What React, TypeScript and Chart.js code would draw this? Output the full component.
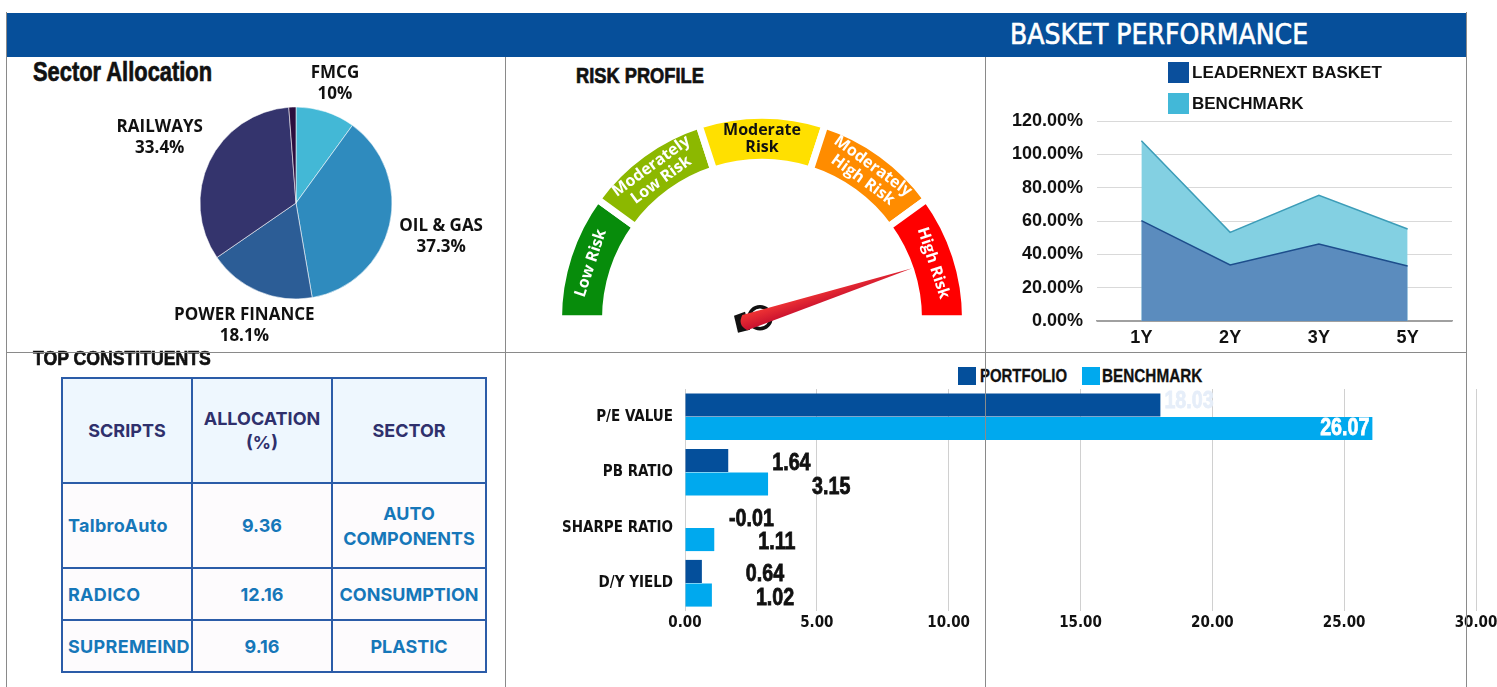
import React, { useEffect, useRef } from 'react';
import { Chart, registerables } from 'chart.js';
Chart.register(...registerables);

const COND = '"DejaVu Sans Condensed", "Liberation Sans", sans-serif';
const OPEN = '"Open Sans", "Noto Sans", sans-serif';
const INTER = 'Inter, "Open Sans", sans-serif';
const LIB = '"Liberation Sans", Arial, sans-serif';

// ---- Sector allocation (pie) ----
const sectorLabels = ['FMCG', 'OIL & GAS', 'POWER FINANCE', 'RAILWAYS', ''];
const sectorValues = [10, 37.3, 18.1, 33.4, 1.2];
const sectorColors = ['#43b8d6', '#2f8bbe', '#2c5d96', '#34346d', '#2b0e3e'];
const sectorLabelGap = [30, 53, 37, 55, 0];

// ---- Risk profile (gauge) ----
const riskBands = ['Low Risk', 'Moderately\nLow Risk', 'Moderate\nRisk', 'Moderately\nHigh Risk', 'High Risk'];
const riskBandWeights = [1, 1, 1, 1, 1];
const riskColors = ['#078c0b', '#8cb800', '#ffe000', '#ff8c00', '#ff0000'];
const riskTextColors = ['#ffffff', '#ffffff', '#111111', '#ffffff', '#ffffff'];
const riskLevel = 4.5;

// ---- Basket performance (area) ----
const periods = ['1Y', '2Y', '3Y', '5Y'];
const basketReturns = [60.2, 33.6, 46.2, 33.0];
const benchmarkReturns = [108.2, 53.2, 75.4, 55.2];
const perfTicks = [0, 20, 40, 60, 80, 100, 120];

// ---- Valuation (bars) ----
const metrics = ['P/E VALUE', 'PB RATIO', 'SHARPE RATIO', 'D/Y YIELD'];
const portfolioValues = [18.03, 1.64, -0.01, 0.64];
const benchmarkValues = [26.07, 3.15, 1.11, 1.02];

// ---- Top constituents (table) ----
const tableHeaders = ['SCRIPTS', 'ALLOCATION\n(%)', 'SECTOR'];
const scripts = ['TalbroAuto', 'RADICO', 'SUPREMEIND'];
const allocations = ['9.36', '12.16', '9.16'];
const sectors = ['AUTO\nCOMPONENTS', 'CONSUMPTION', 'PLASTIC'];
const rowHeights = [85, 52, 52];

const noScalePadding = (s: any) => {
  s.paddingTop = 0; s.paddingBottom = 0; s.paddingLeft = 0; s.paddingRight = 0;
};

const pieLabelPlugin = {
  id: 'pieLabels',
  afterDatasetsDraw(chart: any) {
    const ctx = chart.ctx;
    const meta = chart.getDatasetMeta(0);
    ctx.save();
    ctx.font = `bold 17px ${OPEN}`;
    ctx.fillStyle = '#111';
    ctx.textAlign = 'center';
    ctx.textBaseline = 'middle';
    meta.data.forEach((arc: any, i: number) => {
      const name = sectorLabels[i];
      if (!name) return;
      const p = arc.getProps(['x', 'y', 'startAngle', 'endAngle', 'outerRadius'], true);
      const mid = (p.startAngle + p.endAngle) / 2;
      const d = p.outerRadius + sectorLabelGap[i];
      const cx = p.x + Math.cos(mid) * d;
      const cy = p.y + Math.sin(mid) * d;
      ctx.fillText(name, cx, cy - 10.5);
      ctx.fillText(sectorValues[i] + '%', cx, cy + 10.5);
    });
    ctx.restore();
  },
};

const gaugePlugin = {
  id: 'gauge',
  afterDatasetsDraw(chart: any) {
    const ctx = chart.ctx;
    const meta = chart.getDatasetMeta(0);
    ctx.save();
    ctx.font = `bold 16px ${OPEN}`;
    ctx.textAlign = 'center';
    ctx.textBaseline = 'middle';
    let cx = 0, cy = 0, inner = 0;
    meta.data.forEach((arc: any, i: number) => {
      const p = arc.getProps(['x', 'y', 'startAngle', 'endAngle', 'innerRadius', 'outerRadius'], true);
      cx = p.x; cy = p.y; inner = p.innerRadius;
      const mid = (p.startAngle + p.endAngle) / 2;
      const rm = (p.innerRadius + p.outerRadius) / 2;
      const lines = riskBands[i].split('\n');
      ctx.fillStyle = riskTextColors[i];
      lines.forEach((ln, k) => {
        const r = lines.length === 1 ? rm : rm + (k === 0 ? 8.5 : -8.5);
        ctx.save();
        ctx.translate(p.x + Math.cos(mid) * r, p.y + Math.sin(mid) * r);
        ctx.rotate(mid + Math.PI / 2);
        ctx.fillText(ln, 0, 0);
        ctx.restore();
      });
    });
    const total = riskBandWeights.reduce((a, b) => a + b, 0);
    const ang = -Math.PI + (Math.PI * riskLevel) / total;
    const tip = inner + 3.5;
    ctx.translate(cx - 2, cy - 1);
    ctx.fillStyle = '#111';
    ctx.beginPath();
    ctx.moveTo(-26, -2); ctx.lineTo(-15, -6); ctx.lineTo(-10, 12); ctx.lineTo(-22, 15);
    ctx.closePath(); ctx.fill();
    ctx.strokeStyle = '#111';
    ctx.lineWidth = 3.5;
    ctx.beginPath();
    ctx.arc(0, 0, 11, 0, Math.PI * 2);
    ctx.stroke();
    ctx.rotate(ang);
    const g = ctx.createLinearGradient(0, -8, 0, 8);
    g.addColorStop(0, '#f03434'); g.addColorStop(1, '#c8102e');
    ctx.fillStyle = g;
    ctx.beginPath();
    ctx.moveTo(tip, 0);
    ctx.lineTo(-16, -8);
    ctx.quadraticCurveTo(-24, 0, -16, 8);
    ctx.closePath();
    ctx.fill();
    ctx.restore();
  },
};

const barLabelPlugin = {
  id: 'barLabels',
  afterDatasetsDraw(chart: any) {
    const ctx = chart.ctx;
    const xs = chart.scales.x;
    const sx = 0.82;
    ctx.save();
    ctx.font = `bold 24px ${LIB}`;
    ctx.textBaseline = 'middle';
    ctx.lineWidth = 0.8;
    chart.data.datasets.forEach((ds: any, di: number) => {
      chart.getDatasetMeta(di).data.forEach((bar: any, i: number) => {
        const v = ds.data[i];
        const end = xs.getPixelForValue(Math.max(v, 0));
        const txt = v.toFixed(2);
        let x = 0, y = bar.y;
        if (v >= 20) {
          ctx.fillStyle = '#ffffff'; ctx.textAlign = 'right'; x = end - 3;
        } else if (v >= 10) {
          ctx.fillStyle = '#e6eef9'; ctx.textAlign = 'left'; x = end + 4; y = bar.y - 4;
        } else {
          ctx.fillStyle = '#111'; ctx.textAlign = 'left'; x = end + 44; y = bar.y + 3;
        }
        ctx.strokeStyle = ctx.fillStyle;
        ctx.save();
        ctx.translate(x, y);
        ctx.scale(sx, 1);
        ctx.fillText(txt, 0, 0);
        ctx.strokeText(txt, 0, 0);
        ctx.restore();
      });
    });
    ctx.restore();
  },
};

function ChartBox({ make, left, top, width, height }: any) {
  const ref = useRef<HTMLCanvasElement>(null);
  useEffect(() => {
    const chart = new Chart(ref.current as HTMLCanvasElement, make());
    return () => chart.destroy();
  }, []);
  return (
    <canvas
      ref={ref}
      width={width}
      height={height}
      style={{ position: 'absolute', left, top, width, height }}
    />
  );
}

const pieConfig = (): any => ({
  type: 'pie',
  data: {
    labels: sectorLabels,
    datasets: [{ data: sectorValues, backgroundColor: sectorColors, borderColor: 'rgba(255,255,255,0.55)', borderWidth: 1 }],
  },
  options: {
    responsive: false, animation: false, radius: 96,
    plugins: { legend: { display: false }, tooltip: { enabled: false } },
  },
  plugins: [pieLabelPlugin],
});

const gaugeConfig = (): any => ({
  type: 'doughnut',
  data: {
    labels: riskBands,
    datasets: [{ data: riskBandWeights, backgroundColor: riskColors, borderColor: '#ffffff', borderWidth: 7 }],
  },
  options: {
    responsive: false, animation: false,
    rotation: -90, circumference: 180, radius: 203.5, cutout: '76.9%',
    plugins: { legend: { display: false }, tooltip: { enabled: false } },
  },
  plugins: [gaugePlugin],
});

const perfFont = { family: LIB, size: 18, weight: 'bold' as const };

const areaConfig = (): any => ({
  type: 'line',
  data: {
    labels: periods,
    datasets: [
      { label: 'LEADERNEXT BASKET', data: basketReturns, fill: 'origin', backgroundColor: '#5b8cbe', borderColor: '#1d4d8c', borderWidth: 1.5, pointRadius: 0, tension: 0 },
      { label: 'BENCHMARK', data: benchmarkReturns, fill: 'origin', backgroundColor: '#83d0e2', borderColor: '#3d9db8', borderWidth: 1.5, pointRadius: 0, tension: 0 },
    ],
  },
  options: {
    responsive: false, animation: false,
    layout: { padding: { top: 21, right: 8, left: 0, bottom: 0 } },
    plugins: { legend: { display: false }, tooltip: { enabled: false } },
    scales: {
      x: {
        offset: true,
        grid: { display: false, drawTicks: false },
        border: { display: true, color: '#a0a0a0', width: 1.5 },
        ticks: { padding: 6, color: '#111', font: perfFont },
        afterFit: (s: any) => { s.height = 34; noScalePadding(s); },
      },
      y: {
        min: perfTicks[0], max: perfTicks[perfTicks.length - 1],
        afterBuildTicks: (s: any) => { s.ticks = perfTicks.map((v) => ({ value: v })); },
        ticks: { padding: 14, color: '#111', font: perfFont, callback: (v: any) => Number(v).toFixed(2) + '%' },
        grid: { color: (c: any) => (c.tick && c.tick.value === 0 ? '#a0a0a0' : '#d9d9d9'), drawTicks: false },
        border: { display: false },
        afterFit: (s: any) => { s.width = 107; noScalePadding(s); },
      },
    },
  },
});

const barFont = { family: COND, size: 15, weight: 'bold' as const };

const barConfig = (): any => ({
  type: 'bar',
  data: {
    labels: metrics,
    datasets: [
      { label: 'PORTFOLIO', data: portfolioValues, backgroundColor: '#044f9b', categoryPercentage: 0.85, barPercentage: 0.98 },
      { label: 'BENCHMARK', data: benchmarkValues, backgroundColor: '#00a9ee', categoryPercentage: 0.85, barPercentage: 0.98 },
    ],
  },
  options: {
    indexAxis: 'y', responsive: false, animation: false,
    layout: { padding: { top: 9, right: 21, left: 0, bottom: 0 } },
    plugins: { legend: { display: false }, tooltip: { enabled: false } },
    scales: {
      x: {
        min: 0, max: 30,
        ticks: { stepSize: 5, padding: 3, color: '#111', font: barFont, callback: (v: any) => Number(v).toFixed(2) },
        grid: { color: '#d0d0d0', drawTicks: false },
        border: { display: false },
        afterFit: (s: any) => { s.height = 69; noScalePadding(s); },
      },
      y: {
        grid: { display: false, drawTicks: false },
        border: { display: false },
        ticks: { padding: 12, color: '#111', font: barFont },
        afterFit: (s: any) => { s.width = 175; noScalePadding(s); },
      },
    },
  },
  plugins: [barLabelPlugin],
});

const line = (left: number, top: number, width: number, height: number) => (
  <div style={{ position: 'absolute', left, top, width, height, background: '#8a8a8a', pointerEvents: 'none' }} />
);

const narrow = (text: string, left: number, top: number, size: number, scale: number, extra: any = {}) => (
  <div style={{ position: 'absolute', left, top, fontFamily: LIB, fontWeight: 700, fontSize: size, lineHeight: `${size}px`, color: '#111', whiteSpace: 'nowrap', transform: `scaleX(${scale})`, transformOrigin: 'left center', WebkitTextStroke: '0.7px #111', ...extra }}>{text}</div>
);

export default function App() {
  const border = '2px solid #2b5ca8';
  return (
    <div style={{ position: 'relative', width: 1497, height: 687, background: '#fff', overflow: 'hidden' }}>
      <style>{`body{margin:0;background:#fff;}`}</style>
      <div style={{ position: 'absolute', left: 7, top: 13, width: 1459, height: 44, background: '#064f9a' }} />
      <div style={{ position: 'absolute', left: 1010, top: 21, fontFamily: COND, fontWeight: 400, fontSize: 28, lineHeight: '28px', color: '#fff', whiteSpace: 'nowrap', WebkitTextStroke: '0.6px #fff' }}>BASKET PERFORMANCE</div>

      {narrow('Sector Allocation', 33, 59, 27, 0.81)}
      <ChartBox make={pieConfig} left={96} top={58} width={400} height={290} />

      {narrow('RISK PROFILE', 576, 65, 22, 0.83)}
      <ChartBox make={gaugeConfig} left={512} top={97} width={500} height={240} />

      <div style={{ position: 'absolute', left: 1168, top: 62, width: 21, height: 21, background: '#0a4f9c' }} />
      <div style={{ position: 'absolute', left: 1192, top: 63, fontFamily: LIB, fontWeight: 700, fontSize: 17, lineHeight: '20px', color: '#111' }}>LEADERNEXT BASKET</div>
      <div style={{ position: 'absolute', left: 1168, top: 93, width: 21, height: 21, background: '#42b8d8' }} />
      <div style={{ position: 'absolute', left: 1192, top: 94, fontFamily: LIB, fontWeight: 700, fontSize: 17, lineHeight: '20px', color: '#111' }}>BENCHMARK</div>
      <ChartBox make={areaConfig} left={990} top={100} width={470} height={255} />

      {narrow('TOP CONSTITUENTS', 33, 347, 21, 0.84)}
      <table style={{ position: 'absolute', left: 61, top: 377, borderCollapse: 'collapse', tableLayout: 'fixed', width: 424, fontFamily: INTER, fontWeight: 700, fontSize: 18 }}>
        <colgroup>
          <col style={{ width: 130 }} />
          <col style={{ width: 140 }} />
          <col style={{ width: 154 }} />
        </colgroup>
        <thead>
          <tr style={{ height: 105 }}>
            {tableHeaders.map((h) => (
              <th key={h} style={{ border, background: '#eef7fe', color: '#2f306c', textAlign: 'center', whiteSpace: 'pre-line', padding: 0, lineHeight: '24px', fontWeight: 700 }}>{h}</th>
            ))}
          </tr>
        </thead>
        <tbody>
          {scripts.map((s, i) => (
            <tr key={s} style={{ height: rowHeights[i] }}>
              <td style={{ border, background: '#fdfbfd', color: '#1677b9', textAlign: 'left', paddingLeft: 5, paddingRight: 0, letterSpacing: '0.3px' }}>{s}</td>
              <td style={{ border, background: '#fdfbfd', color: '#1677b9', textAlign: 'center', padding: 0 }}>{allocations[i]}</td>
              <td style={{ border, background: '#fdfbfd', color: '#1677b9', textAlign: 'center', padding: 0, whiteSpace: 'pre-line', lineHeight: '25px' }}>{sectors[i]}</td>
            </tr>
          ))}
        </tbody>
      </table>

      <div style={{ position: 'absolute', left: 958, top: 367, width: 18, height: 18, background: '#044f9b' }} />
      {narrow('PORTFOLIO', 980, 367, 18, 0.83, { WebkitTextStroke: '0.3px #111' })}
      <div style={{ position: 'absolute', left: 1082, top: 367, width: 18, height: 18, background: '#00a9ee' }} />
      {narrow('BENCHMARK', 1102, 367, 18, 0.85, { WebkitTextStroke: '0.3px #111' })}
      <ChartBox make={barConfig} left={510} top={380} width={987} height={300} />

      {line(6, 12, 1, 675)}
      {line(505, 57, 1, 630)}
      {line(985, 57, 1, 630)}
      {line(1466, 12, 1, 675)}
      {line(6, 352, 1461, 1)}
    </div>
  );
}
